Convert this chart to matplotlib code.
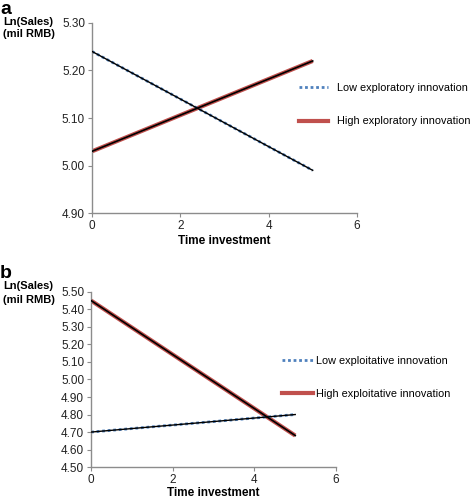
import matplotlib
matplotlib.use("Agg")
import matplotlib.pyplot as plt
from matplotlib.lines import Line2D

plt.rcParams['font.family'] = ['Liberation Sans', 'DejaVu Sans']

x_vals = [0, 5]
a_low = [5.24, 4.99]
a_high = [5.03, 5.22]
b_low = [4.70, 4.80]
b_high = [5.45, 4.68]

a_labels = ["Low exploratory innovation", "High exploratory innovation"]
b_labels = ["Low exploitative innovation", "High exploitative innovation"]
a_yticks = [4.90, 5.00, 5.10, 5.20, 5.30]
b_yticks = [4.50, 4.60, 4.70, 4.80, 4.90, 5.00, 5.10, 5.20, 5.30, 5.40, 5.50]
xticks = [0, 2, 4, 6]

BLUE = "#4F81BD"
RED = "#C0504D"
GRAY = "#8c8c8c"

fig = plt.figure(figsize=(4.72, 4.98), dpi=100)

def panel(rect, low, high, yticks, labels, letter, letter_y, ylab_y, ylab_ls, leg_x, leg_y,
          hlen, hpad, xlabpad):
    ax = fig.add_axes(rect)
    ax.plot(x_vals, high, color=RED, lw=3.0, solid_capstyle='butt', zorder=2)
    ax.plot(x_vals, high, color='black', lw=1.2, zorder=3)
    ax.plot(x_vals, low, color=BLUE, lw=2.0, ls=(0, (1, 1)), zorder=2)
    ax.plot(x_vals, low, color='black', lw=1.0, zorder=3)
    ax.set_xlim(0, 6)
    ax.set_ylim(yticks[0], yticks[-1])
    ax.set_xticks(xticks)
    ax.set_yticks(yticks)
    ax.set_yticklabels([f"{v:.2f}" for v in yticks])
    for s in ['top', 'right']:
        ax.spines[s].set_visible(False)
    for s in ['left', 'bottom']:
        ax.spines[s].set_color(GRAY)
        ax.spines[s].set_linewidth(1.0)
    ax.tick_params(axis='both', direction='out', length=3, color=GRAY,
                   labelsize=8.5, pad=2, labelcolor='#222222')
    ax.set_xlabel("Time investment", fontsize=8.5, fontweight='bold', labelpad=xlabpad)
    fig.text(0.006, ylab_y, "Ln(Sales)\n(mil RMB)", fontsize=8,
             fontweight='bold', va='top', ha='left', linespacing=ylab_ls)
    fig.text(0.0, letter_y, letter, fontsize=14, fontweight='bold', va='baseline', ha='left')
    handles = [Line2D([0], [0], color=BLUE, lw=2.0, ls=(0, (1, 1))),
               Line2D([0], [0], color=RED, lw=3.0)]
    fig.legend(handles, labels, loc='upper left', bbox_to_anchor=(leg_x, leg_y),
               frameon=False, fontsize=7.8, handlelength=hlen, handletextpad=hpad,
               labelspacing=2.15, borderaxespad=0, borderpad=0)
    return ax

panel([0.195, 0.572, 0.561, 0.382], a_low, a_high, a_yticks, a_labels, "a",
      0.972, 0.966, 1.3, 0.634, 0.833, 2.7, 0.8, 2)
panel([0.193, 0.062, 0.519, 0.352], b_low, b_high, b_yticks, b_labels, "b",
      0.442, 0.435, 1.45, 0.598, 0.286, 2.8, 0.3, 1)

fig.savefig("out.png", dpi=100)
